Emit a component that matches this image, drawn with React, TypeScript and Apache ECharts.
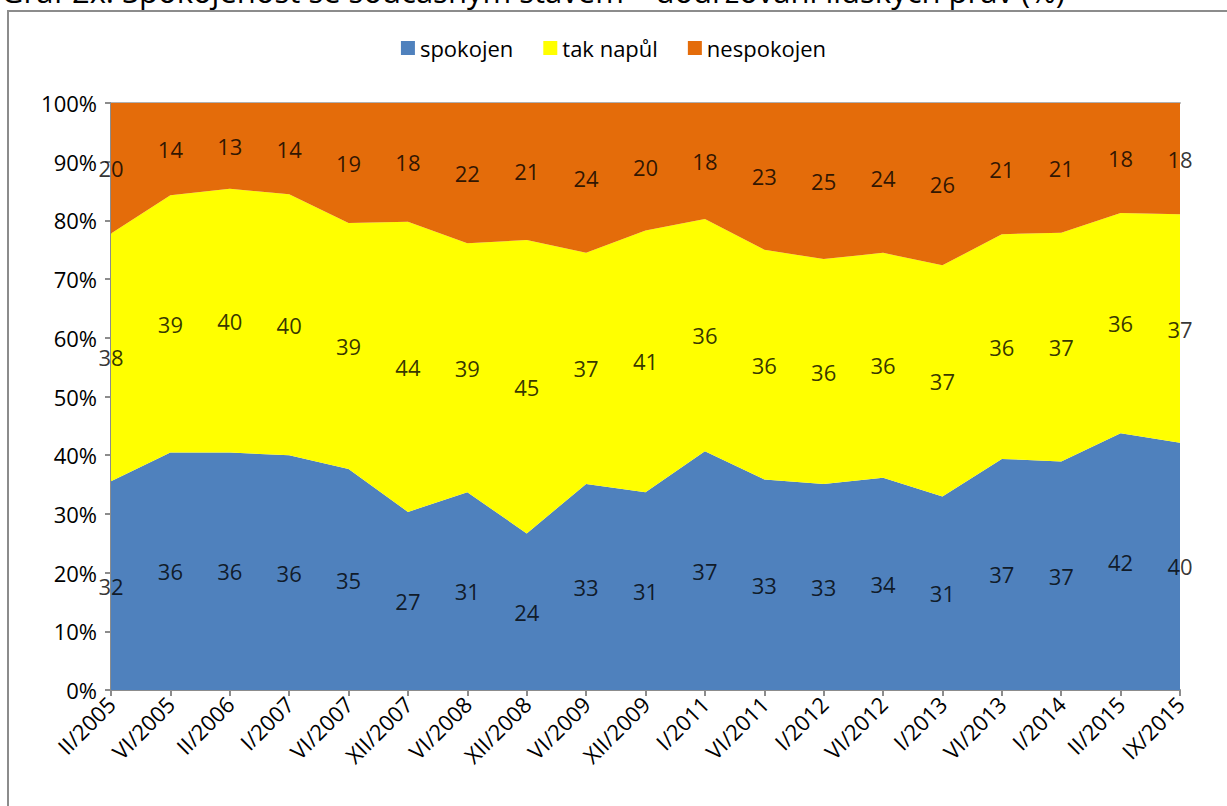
import React, { useEffect, useRef } from "react";
import * as echarts from "echarts";

const categories = ["II/2005", "VI/2005", "II/2006", "I/2007", "VI/2007", "XII/2007", "VI/2008", "XII/2008", "VI/2009", "XII/2009", "I/2011", "VI/2011", "I/2012", "VI/2012", "I/2013", "VI/2013", "I/2014", "II/2015", "IX/2015"];
const spokojen = [32, 36, 36, 36, 35, 27, 31, 24, 33, 31, 37, 33, 33, 34, 31, 37, 37, 42, 40];
const takNapul = [38, 39, 40, 40, 39, 44, 39, 45, 37, 41, 36, 36, 36, 36, 37, 36, 37, 36, 37];
const nespokojen = [20, 14, 13, 14, 19, 18, 22, 21, 24, 20, 18, 23, 25, 24, 26, 21, 21, 18, 18];
const seriesNames = ["spokojen", "tak napůl", "nespokojen"];
const colors = ["#4F81BD", "#FFFF00", "#E46C0A"];
const titleText = "Graf 2x: Spokojenost se současným stavem – dodržování lidských práv (%)";

const FONT = "Open Sans";

export default function App() {
  const ref = useRef<HTMLDivElement>(null);
  useEffect(() => {
    if (!ref.current) return;
    const chart = echarts.init(ref.current, undefined, { renderer: "svg" });
    const raw = [spokojen, takNapul, nespokojen];
    const totals = categories.map((_, i) => spokojen[i] + takNapul[i] + nespokojen[i]);
    const pct = raw.map((arr) => arr.map((v, i) => (v / totals[i]) * 100));
    const mids = pct.map((arr, s) =>
      arr.map((v, i) => {
        let base = 0;
        for (let k = 0; k < s; k++) base += pct[k][i];
        return base + v / 2;
      })
    );
    const areaSeries = pct.map((arr, s) => ({
      name: seriesNames[s],
      type: "line",
      stack: "total",
      data: arr,
      symbol: "none",
      lineStyle: { width: 0 },
      areaStyle: { color: colors[s], opacity: 1 },
      itemStyle: { color: colors[s] },
      z: 2,
    }));
    const labelSeries = mids.map((arr, s) => ({
      name: "lbl" + s,
      type: "scatter",
      data: arr.map((v, i) => [i, v]),
      symbolSize: 1,
      itemStyle: { color: "rgba(0,0,0,0)" },
      label: {
        show: true,
        position: "inside",
        formatter: (p: any) => String(raw[s][p.dataIndex]),
        fontFamily: FONT,
        fontSize: 22,
        color: "#000",
      },
      z: 5,
      silent: true,
    }));
    chart.setOption({
      animation: false,
      textStyle: { fontFamily: FONT },
      graphic: [
        {
          type: "rect",
          shape: { x: 8, y: 11, width: 1400, height: 1000 },
          style: { fill: "none", stroke: "#8c8c8c", lineWidth: 2 },
          z: 0,
        },
        {
          type: "text",
          x: 1,
          y: -9,
          style: {
            text: titleText,
            fontFamily: FONT,
            fontSize: 31,
            fill: "#000",
            textVerticalAlign: "middle",
          },
        },
      ],
      legend: {
        data: seriesNames,
        top: 32,
        left: "center",
        itemWidth: 14,
        itemHeight: 14,
        itemGap: 30,
        icon: "rect",
        textStyle: { fontFamily: FONT, fontSize: 22, color: "#000" },
      },
      grid: { left: 111, right: 47, top: 103, bottom: 116, containLabel: false },
      xAxis: [
        {
          type: "category",
          data: categories,
          boundaryGap: false,
          axisLine: { lineStyle: { color: "#8c8c8c", width: 2 } },
          axisTick: { show: true, length: 6, lineStyle: { color: "#8c8c8c", width: 2 } },
          axisLabel: { rotate: 45, fontFamily: FONT, fontSize: 22, color: "#000", margin: 10 },
          splitLine: { show: false },
        },
        {
          type: "category",
          data: categories,
          boundaryGap: false,
          position: "top",
          axisLine: { lineStyle: { color: "#b0b0b0", width: 2 } },
          axisTick: { show: false },
          axisLabel: { show: false },
        },
      ],
      yAxis: {
        type: "value",
        min: 0,
        max: 100,
        interval: 10,
        axisLine: { show: true, lineStyle: { color: "#8c8c8c", width: 2 } },
        axisTick: { show: true, length: 6, lineStyle: { color: "#8c8c8c", width: 2 } },
        axisLabel: { formatter: "{value}%", fontFamily: FONT, fontSize: 22, color: "#000", margin: 14 },
        splitLine: { show: false },
      },
      series: [...areaSeries, ...labelSeries],
    });
    return () => chart.dispose();
  }, []);
  return (
    <div
      ref={ref}
      style={{ position: "fixed", left: 0, top: 0, width: 1227, height: 806, background: "#fff" }}
    />
  );
}
